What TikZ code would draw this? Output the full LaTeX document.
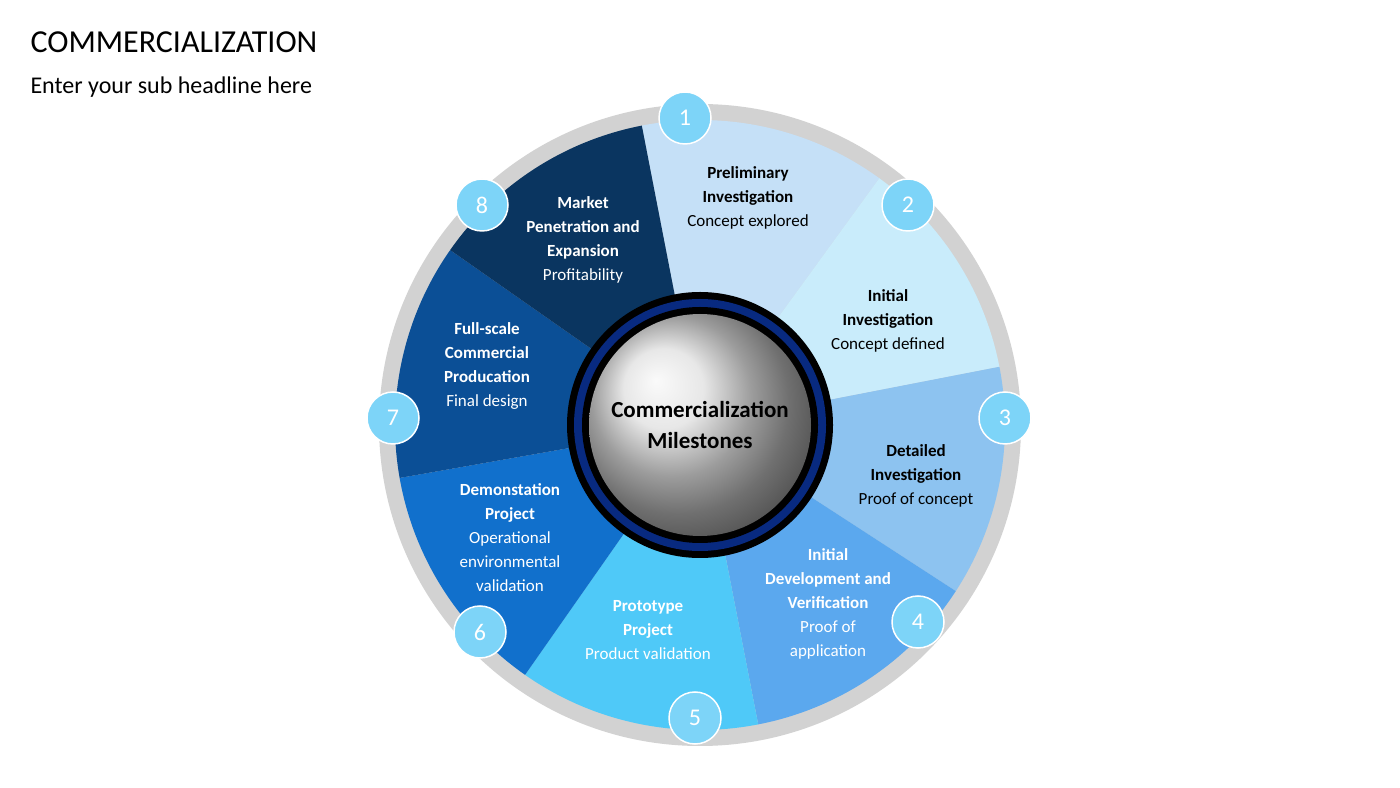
\documentclass[tikz,border=0pt]{standalone}
\usepackage{fontspec}
\setmainfont{Carlito}
\begin{document}
\begin{tikzpicture}[x=1pt,y=1pt,
  lbl/.style={align=center,font=\fontsize{17}{24}\selectfont},
  num/.style={circle,fill=numc,minimum size=52pt,inner sep=0pt,text=white,font=\fontsize{24}{24}\selectfont,draw=white,line width=1.5pt}]
\definecolor{numc}{HTML}{7DD4F8}
\definecolor{s1}{HTML}{C5E0F7}\definecolor{s2}{HTML}{C9ECFB}\definecolor{s3}{HTML}{8DC3F0}
\definecolor{s4}{HTML}{5BA8EE}\definecolor{s5}{HTML}{4FC9F8}\definecolor{s6}{HTML}{1170CC}
\definecolor{s7}{HTML}{0B4F96}\definecolor{s8}{HTML}{0A3560}
\useasboundingbox (0,0) rectangle (1400,787);
\fill[white] (0,0) rectangle (1400,787);
\node[anchor=west,font=\fontsize{32}{32}\selectfont] (title) at (27,745) {COMMERCIALIZATION};
\node[anchor=west,font=\fontsize{24}{24}\selectfont] (sub) at (27,700) {Enter your sub headline here};
\coordinate (c) at (700,362);
\fill[gray!35] (c) circle (321);
\foreach \a/\b/\col in {54/101/s1,11/54/s2,-33/11/s3,-79/-33/s4,-125/-79/s5,-170/-125/s6,145/190/s7,101/145/s8}
  \fill[\col] (c) -- ++(\a:305) arc[start angle=\a,end angle=\b,radius=305] -- cycle;
\node[lbl] (t1) at (748,589) {\textbf{Preliminary}\\\textbf{Investigation}\\Concept explored};
\node[lbl] (t2) at (888,466) {\textbf{Initial}\\\textbf{Investigation}\\Concept defined};
\node[lbl] (t3) at (916,311) {\textbf{Detailed}\\\textbf{Investigation}\\Proof of concept};
\node[lbl,text=white] (t4) at (828,183) {\textbf{Initial}\\\textbf{Development and}\\\textbf{Verification}\\Proof of\\application};
\node[lbl,text=white] (t5) at (648,157) {\textbf{Prototype}\\\textbf{Project}\\Product validation};
\node[lbl,text=white] (t6) at (510,249) {\textbf{Demonstation}\\\textbf{Project}\\Operational\\environmental\\validation};
\node[lbl,text=white] (t7) at (487,421) {\textbf{Full-scale}\\\textbf{Commercial}\\\textbf{Producation}\\Final design};
\node[lbl,text=white] (t8) at (583,547) {\textbf{Market}\\\textbf{Penetration and}\\\textbf{Expansion}\\Profitability};
\foreach \n/\x/\y in {1/685/669,2/908/582,3/1005/369,4/918/165,5/695/69,6/480/155,7/393/369,8/482/582}
  \node[num] (n\n) at (\x,\y) {\n};
\fill[black] (c) circle (133);
\fill[s8!80!blue] (c) circle (126);
\fill[black] (c) circle (118);
\shade[ball color=gray!25] (c) circle (111);
\node[align=center,font=\bfseries\fontsize{23}{31}\selectfont] (center) at (c) {Commercialization\\Milestones};
\end{tikzpicture}
\end{document}
